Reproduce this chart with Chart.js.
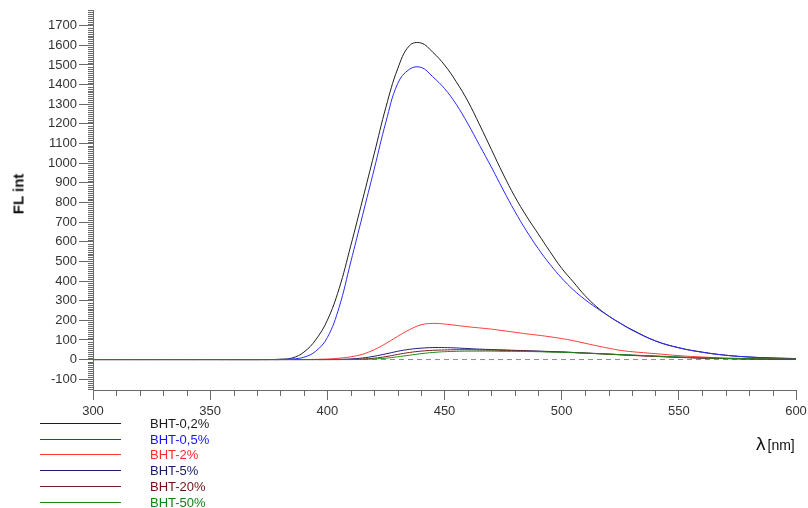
<!DOCTYPE html>
<html>
<head>
<meta charset="utf-8">
<script src="https://cdn.jsdelivr.net/npm/chart.js@4"></script>
<style>
  html, body { margin: 0; padding: 0; background: #fff; }
  #wrap { position: relative; width: 808px; height: 508px; font-family: "Liberation Sans", Arial, sans-serif; }
  #chart { position: absolute; left: 0; top: 0; }
  .ytitle { position: absolute; left: 18px; top: 194px; transform: translate(-50%, -50%) rotate(-90deg);
            font-weight: bold; font-size: 15px; white-space: nowrap; color: #111; }
  .xtitle { position: absolute; left: 756px; top: 433px; white-space: nowrap; color: #111; }
  .xtitle .lam { font-size: 19px; }
  .xtitle .unit { font-size: 14px; margin-left: 2px; }
  .legend { position: absolute; left: 0; top: 0; }
  .legend .row { position: absolute; left: 40px; height: 16px; width: 200px; }
  .legend .swatch { position: absolute; left: 0; top: 7px; width: 81px; height: 1px; }
  .legend .name { position: absolute; left: 110px; top: 0; font-size: 13px; line-height: 16px; white-space: nowrap; }
</style>
</head>
<body>
<div id="wrap">
  <canvas id="chart" width="808" height="508"></canvas>
  <div class="ytitle">FL int</div>
  <div class="xtitle"><span class="lam">λ</span><span class="unit">[nm]</span></div>
  <div class="legend" id="legend"></div>
</div>
<script>
// Emission wavelengths (nm) shared by all spectra
const wavelengths = [300, 350, 375, 380, 385, 390, 395, 400, 405, 410, 415, 420, 425, 430, 435, 440, 445, 450, 455, 460,
                     465, 470, 475, 480, 485, 490, 495, 500, 505, 510, 515, 520, 525, 530, 540, 550, 560, 570, 580, 590, 600];

// Fluorescence intensity per BHT concentration
const bht02 = [0, 0, 0, 2, 8, 38, 100, 200, 360, 580, 812, 1048, 1285, 1480, 1598, 1612, 1565, 1500, 1415, 1315,
               1195, 1070, 945, 830, 730, 640, 550, 465, 395, 325, 268, 222, 185, 152, 95, 60, 38, 22, 13, 8, 5];
const bht05 = [0, 0, 0, 0, 3, 12, 42, 112, 265, 497, 733, 970, 1210, 1405, 1478, 1488, 1440, 1380, 1300, 1200,
               1090, 980, 865, 755, 655, 565, 485, 415, 355, 305, 262, 222, 185, 150, 95, 60, 37, 22, 13, 8, 5];
const bht2  = [0, 0, 0, 0, 0, 0, 1, 3, 7, 14, 27, 50, 82, 118, 152, 177, 184, 181, 174, 167,
               161, 155, 147, 139, 131, 124, 116, 107, 96, 83, 70, 58, 47, 40, 30, 20, 13, 8, 5, 3, 2];
const bht5  = [0, 0, 0, 0, 0, 0, 0, 0, 1, 3, 8, 17, 29, 42, 52, 58, 61, 61, 59, 56,
               53, 51, 49, 47, 45, 43, 41, 39, 36, 33, 31, 28, 25, 22, 17, 12, 8, 5, 3, 2, 1];
const bht20 = [0, 0, 0, 0, 0, 0, 0, 0, 0, 1, 3, 7, 15, 26, 36, 43, 47, 49, 50, 50,
               49, 48, 47, 45, 44, 42, 40, 38, 36, 33, 30, 27, 24, 21, 16, 11, 7, 5, 3, 2, 1];
const bht50 = [0, 0, 0, 0, 0, 0, 0, 0, 0, 0, 1, 3, 7, 14, 22, 30, 36, 40, 42, 43,
               43, 43, 42, 42, 41, 40, 38, 37, 35, 33, 30, 28, 25, 23, 18, 13, 9, 6, 4, 3, 2];

// Baseline reference
const baselineX = [300, 600];
const baselineY = [0, 0];

const seriesNames = ['BHT-0,2%', 'BHT-0,5%', 'BHT-2%', 'BHT-5%', 'BHT-20%', 'BHT-50%'];
const seriesValues = [bht02, bht05, bht2, bht5, bht20, bht50];
const lineColors = ['#1e1e1e', '#2a2aff', '#ff3a3a', '#1c1c7a', '#7a1c1c', '#1c8a1c'];
const textColors = ['#1a1a1a', '#1414ff', '#ff2a2a', '#1a1a66', '#6e1414', '#148014'];

// Axis tick labels
const xTickValues = [300, 350, 400, 450, 500, 550, 600];
const yTickValues = [-100, 0, 100, 200, 300, 400, 500, 600, 700, 800, 900, 1000, 1100, 1200, 1300, 1400, 1500, 1600, 1700];
const xMinorStep = 10;
const yMinorStep = 10;

Chart.defaults.font.family = '"Liberation Sans", Arial, sans-serif';

const datasets = seriesNames.map((name, k) => ({
  label: name,
  data: wavelengths.map((w, i) => ({ x: w, y: seriesValues[k][i] })),
  borderColor: lineColors[k],
  borderWidth: 1,
  pointRadius: 0,
  tension: 0.4,
  fill: false,
  order: seriesNames.length - 1 - k
}));
datasets.push({
  label: 'baseline',
  data: baselineX.map((w, i) => ({ x: w, y: baselineY[i] })),
  borderColor: '#8a8a8a',
  borderWidth: 1,
  borderDash: [5, 4],
  pointRadius: 0,
  fill: false,
  order: 20
});

// Short unlabeled ticks between the labeled ones
const minorTicks = {
  id: 'minorTicks',
  afterDraw(chart) {
    const { ctx } = chart;
    const x = chart.scales.x, y = chart.scales.y;
    ctx.save();
    ctx.strokeStyle = '#6a6a6a';
    ctx.lineWidth = 1;
    ctx.beginPath();
    for (let v = x.min + xMinorStep; v < x.max; v += xMinorStep) {
      if (xTickValues.includes(v)) continue;
      const px = Math.round(x.getPixelForValue(v)) + 0.5;
      ctx.moveTo(px, x.top);
      ctx.lineTo(px, x.top + 6);
    }
    const yStart = Math.ceil(y.min / yMinorStep) * yMinorStep;
    for (let v = yStart; v <= y.max; v += yMinorStep) {
      if (yTickValues.includes(v)) continue;
      const py = Math.round(y.getPixelForValue(v)) + 0.5;
      ctx.moveTo(y.right - 5, py);
      ctx.lineTo(y.right, py);
    }
    ctx.stroke();
    ctx.restore();
  }
};

new Chart(document.getElementById('chart'), {
  type: 'line',
  data: { datasets },
  options: {
    responsive: false,
    animation: false,
    events: [],
    layout: { padding: { top: 10, right: 12, left: 0, bottom: 0 } },
    plugins: { legend: { display: false }, tooltip: { enabled: false } },
    scales: {
      x: {
        type: 'linear', min: 300, max: 600,
        afterBuildTicks: s => { s.ticks = xTickValues.map(v => ({ value: v })); },
        afterFit: s => { s.height = 118; s.paddingLeft = 0; s.paddingRight = 0; },
        ticks: { color: '#333', font: { size: 13 }, padding: 4, maxRotation: 0, autoSkip: false,
                 callback: v => String(v) },
        grid: { drawOnChartArea: false, drawTicks: true, tickLength: 10, color: '#6a6a6a' },
        border: { display: true, color: '#6a6a6a' }
      },
      y: {
        type: 'linear', min: -155, max: 1780,
        afterBuildTicks: s => { s.ticks = yTickValues.map(v => ({ value: v })); },
        afterFit: s => { s.width = 93; s.paddingTop = 0; s.paddingBottom = 0; },
        ticks: { color: '#333', font: { size: 13 }, padding: 2, autoSkip: false,
                 callback: v => String(v) },
        grid: { drawOnChartArea: false, drawTicks: true, tickLength: 14, color: '#6a6a6a' },
        border: { display: true, color: '#6a6a6a' }
      }
    }
  },
  plugins: [minorTicks]
});

// Legend below the axis
const legend = document.getElementById('legend');
seriesNames.forEach((name, k) => {
  const row = document.createElement('div');
  row.className = 'row';
  row.style.top = (416 + k * 15.7) + 'px';
  const sw = document.createElement('div');
  sw.className = 'swatch';
  sw.style.background = lineColors[k];
  const tx = document.createElement('div');
  tx.className = 'name';
  tx.style.color = textColors[k];
  tx.textContent = name;
  row.appendChild(sw);
  row.appendChild(tx);
  legend.appendChild(row);
});
</script>
</body>
</html>
